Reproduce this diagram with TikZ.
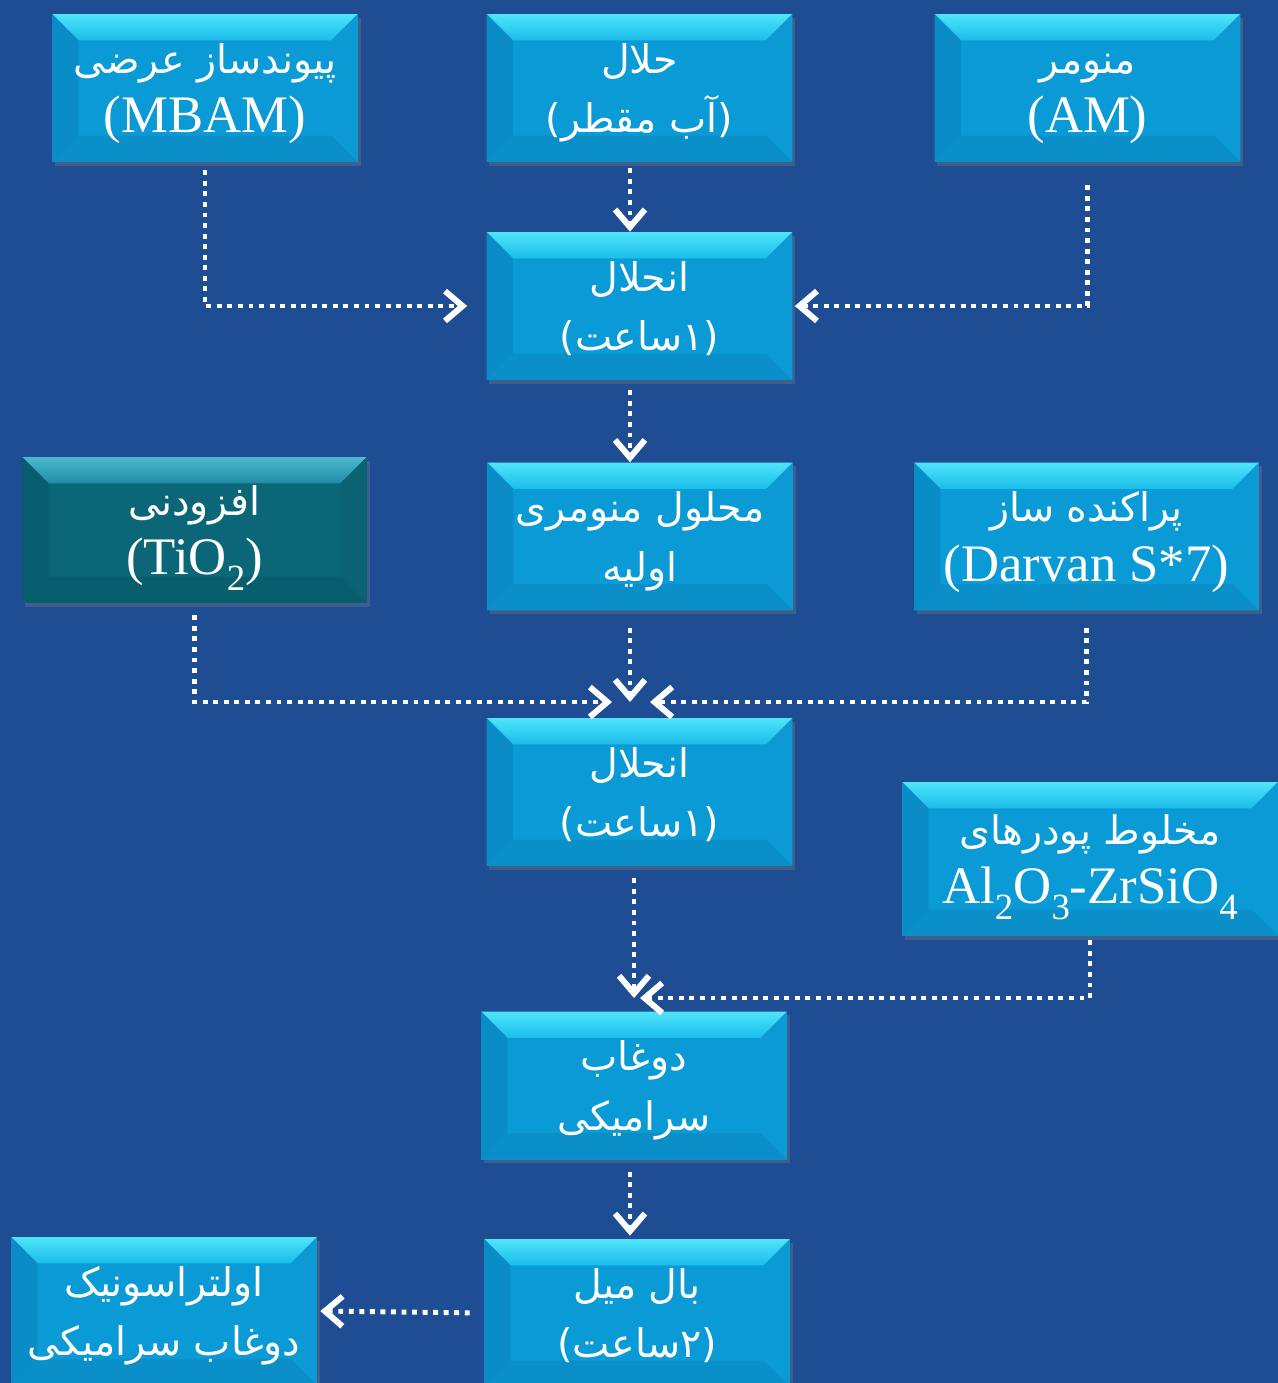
\documentclass[tikz,border=0pt]{standalone}
\usepackage{fontspec}
\usepackage{tikz}
\usetikzlibrary{arrows.meta,shadows}
\setmainfont{Liberation Serif}
\newfontfamily\fa[Script=Arabic]{DejaVu Sans}
\TeXXeTstate=1
\definecolor{bgblue}{HTML}{1E4D94}
\definecolor{skyface}{HTML}{0A9BD6}
\definecolor{skyhi}{HTML}{4FE4FA}
\definecolor{skytop}{HTML}{1BBDEB}
\definecolor{skyleft}{HTML}{0A8CC6}
\definecolor{skyright}{HTML}{0C9AD4}
\definecolor{skybot}{HTML}{0A8FC9}
\definecolor{tealface}{HTML}{0B6677}
\definecolor{tealhi}{HTML}{4DB8CF}
\definecolor{tealtop}{HTML}{1E8CA3}
\definecolor{tealleft}{HTML}{095C6C}
\definecolor{tealright}{HTML}{0A6273}
\definecolor{tealbot}{HTML}{095E6E}

\newcommand{\bevelw}{15pt}
\newcommand{\fatext}[1]{{\fa\fontsize{22.5}{34}\selectfont\beginR #1\endR}}
\newcommand{\chemsub}[1]{\raisebox{-0.3em}{\fontsize{21}{21}\selectfont #1}}
\newcommand{\twolines}[2]{\begin{tabular}{@{}c@{}}\rule{0pt}{27.2pt}#1\\#2\end{tabular}}
\newcommand{\bevelfaces}[1]{%
  \coordinate (bnw) at (path picture bounding box.north west);
  \coordinate (bne) at (path picture bounding box.north east);
  \coordinate (bsw) at (path picture bounding box.south west);
  \coordinate (bse) at (path picture bounding box.south east);
  \coordinate (inw) at ([xshift=\bevelw,yshift=-\bevelw]bnw);
  \coordinate (ine) at ([xshift=-\bevelw,yshift=-\bevelw]bne);
  \coordinate (isw) at ([xshift=\bevelw,yshift=\bevelw]bsw);
  \coordinate (ise) at ([xshift=-\bevelw,yshift=\bevelw]bse);
  \shade[top color=#1hi, bottom color=#1top] (bnw) -- (bne) -- (ine) -- (inw) -- cycle;
  \fill[#1left] (bnw) -- (inw) -- (isw) -- (bsw) -- cycle;
  \fill[#1right] (bne) -- (ine) -- (ise) -- (bse) -- cycle;
  \fill[#1bot] (bsw) -- (isw) -- (ise) -- (bse) -- cycle;
}

\begin{document}
\begin{tikzpicture}[x=0.02cm, y=-0.02cm,
  bevelbox/.style={rectangle, inner sep=0pt, minimum width=6.12cm,
    minimum height=2.96cm, text=white,
    font=\fontsize{30}{34}\selectfont,
    drop shadow={opacity=0.35, shadow xshift=1.5pt, shadow yshift=-2pt}},
  skybox/.style={bevelbox, fill=skyface, path picture={\bevelfaces{sky}}},
  tealbox/.style={bevelbox, fill=tealface, path picture={\bevelfaces{teal}}},
  flow/.style={draw=white, line width=2.8pt, dash pattern=on 2.8pt off 3.2pt,
    -{Straight Barb[length=10pt, width=17pt, line width=3.4pt]}}]
  % background
  \fill[bgblue] (0,0) rectangle (1278,1383);
  \useasboundingbox (0,0) rectangle (1278,1383);
  \clip (0,0) rectangle (1278,1383);
  \coordinate (spine) at (630,0);
  \coordinate (j2) at (630,702);
  \coordinate (j3) at (634,998);

  % first row: raw materials
  \node[skybox] (mbam) at (205,88) {\twolines{\fatext{پیوندساز عرضی}}{(MBAM)}};
  \node[skybox] (solv) at (639.5,88) {\twolines{\fatext{حلال}}{\fatext{(آب مقطر)}}};
  \node[skybox] (am) at (1087.5,88) {\twolines{\fatext{منومر}}{(AM)}};
  \node[skybox] (dis1) at (639.5,306) {\twolines{\fatext{انحلال}}{\fatext{(۱ساعت)}}};

  % second row
  \node[tealbox, minimum width=6.9cm, minimum height=2.92cm] (tio2) at (194.5,530)
    {\twolines{\fatext{افزودنی}}{(TiO\chemsub{2})}};
  \node[skybox] (sol) at (640,536.5) {\twolines{\fatext{محلول منومری}}{\fatext{اولیه}}};
  \node[skybox, minimum width=6.9cm] (darvan) at (1086.5,536.5)
    {\twolines{\fatext{پراکنده ساز}}{(Darvan S*7)}};
  \node[skybox] (dis2) at (639.5,792) {\twolines{\fatext{انحلال}}{\fatext{(۱ساعت)}}};
  \node[skybox, minimum width=7.52cm, minimum height=3.08cm] (powder) at (1090,859)
    {\twolines{\fatext{مخلوط پودرهای}}{Al\chemsub{2}O\chemsub{3}-ZrSiO\chemsub{4}}};

  % slurry and milling
  \node[skybox] (slurry) at (634,1085.5) {\twolines{\fatext{دوغاب}}{\fatext{سرامیکی}}};
  \node[skybox] (mill) at (637,1313) {\twolines{\fatext{بال میل}}{\fatext{(۲ساعت)}}};
  \node[skybox] (ultra) at (164,1311) {\twolines{\fatext{اولتراسونیک}}{\fatext{دوغاب سرامیکی}}};

  % connectors
  \draw[flow, shorten <=0.16cm, shorten >=0.38cm] (mbam) |- (dis1);
  \draw[flow, shorten <=0.46cm, shorten >=0.04cm] (am) |- (dis1);
  \draw[flow, shorten <=0.12cm] (solv.south -| spine) -- (dis1.north -| spine);
  \draw[flow, shorten <=0.2cm] (dis1.south -| spine) -- (sol.north -| spine);
  \draw[flow, shorten <=0.24cm, shorten >=0.36cm] (tio2) |- (j2);
  \draw[flow, shorten <=0.34cm, shorten >=0.4cm] (darvan) |- (j2);
  \draw[flow, shorten <=0.34cm] (sol.south -| j2) -- (j2);
  \draw[flow, shorten <=0.24cm] (dis2.south -| j3) -- (j3);
  \draw[flow, shorten <=0.08cm, shorten >=0.12cm] (powder) |- (j3);
  \draw[flow, shorten <=0.24cm, shorten >=0.06cm] (slurry.south -| spine) -- (mill.north -| spine);
  \draw[flow, shorten <=0.28cm, shorten >=0.06cm] (mill.west) -- (ultra.east);
\end{tikzpicture}
\end{document}
